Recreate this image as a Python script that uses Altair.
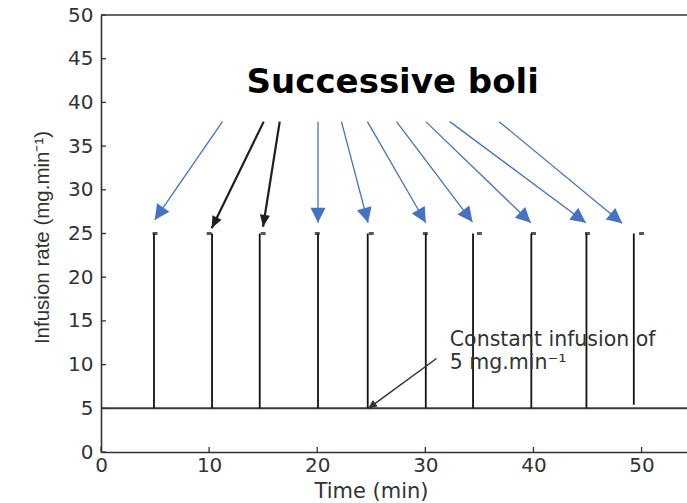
import math
import altair as alt
import pandas as pd

# ---------------- data ----------------
bolus_times = [4.9, 10.27, 14.68, 20.07, 24.67, 30.04, 34.41, 39.8, 44.9, 49.28]
bolus_low = [5, 5, 5, 5, 5, 5, 5, 5, 5, 5.4]
bolus_high = [25, 25, 25, 25, 25, 25, 25, 25, 25, 25]
marker_times = [5, 10, 15, 20, 25, 30, 35, 40, 45, 50]
marker_rate = [25] * 10
constant_rate = [5]

x_ticks = [0, 10, 20, 30, 40, 50]
y_ticks = [0, 5, 10, 15, 20, 25, 30, 35, 40, 45, 50]

# annotation arrows (time, rate) start -> tip
arrow_t0 = [11.23, 15.05, 16.53, 20.07, 22.24, 24.64, 27.33, 30.04, 32.26, 36.82, 31.03]
arrow_r0 = [37.8, 37.8, 37.8, 37.8, 37.8, 37.8, 37.8, 37.8, 37.8, 37.8, 10.7]
arrow_t1 = [4.97, 10.24, 14.99, 20.07, 24.70, 30.04, 34.36, 39.75, 44.84, 48.2, 24.70]
arrow_r1 = [26.55, 25.59, 25.77, 26.23, 26.23, 26.23, 26.31, 26.23, 26.23, 26.16, 4.97]
arrow_kind = ["blue", "black", "black", "blue", "blue", "blue", "blue", "blue", "blue", "blue", "note"]

title_text = ["Successive boli"]
title_pos = [(26.98, 42.2)]
note_lines = ["Constant infusion of", "5 mg.min\u207b\u00b9"]
note_pos = [(32.26, 12.8), (32.26, 10.16)]

# ---------------- layout ----------------
W, H = 586, 437
XMAX = 54.2
YMAX = 50
PX_X = W / XMAX
PX_Y = H / YMAX

xs = alt.Scale(domain=[0, XMAX], nice=False, zero=False)
ys = alt.Scale(domain=[0, YMAX], nice=False, zero=False)

AX_COLOR = "#333333"
BLUE = "#4472C4"

xaxis = alt.Axis(
    values=x_ticks, ticks=False, grid=False, domainColor=AX_COLOR, domainWidth=1.6,
    labelFont="DejaVu Sans", labelFontSize=20, labelColor=AX_COLOR, labelPadding=3,
    title="Time (min)", titleFont="DejaVu Sans", titleFontSize=21, titleFontWeight="normal",
    titleColor=AX_COLOR, titleX=270, titleY=45, titleBaseline="alphabetic",
    titleAlign="center", labelFlush=False)
yaxis = alt.Axis(
    values=y_ticks, ticks=False, grid=False, domainColor=AX_COLOR, domainWidth=1.6,
    labelFont="DejaVu Sans", labelFontSize=20, labelColor=AX_COLOR, labelPadding=8,
    title="Infusion rate (mg.min\u207b\u00b9)", titleFont="Liberation Sans", titleFontSize=20.5,
    titleFontWeight="normal", titleColor=AX_COLOR, titleAngle=270, titleX=-59, titleY=222,
    titleBaseline="middle", titleAlign="center", labelFlush=False)


def X(f):
    return alt.X(f, scale=xs, axis=xaxis)


def Y(f):
    return alt.Y(f, scale=ys, axis=yaxis)


bolus_df = pd.DataFrame({"t": bolus_times, "lo": bolus_low, "hi": bolus_high})
marker_df = pd.DataFrame({"t": marker_times, "r": marker_rate})
xt_df = pd.DataFrame({"t": x_ticks})
yt_df = pd.DataFrame({"r": y_ticks})
const_df = pd.DataFrame({"t": [0], "t_end": [XMAX], "r": constant_rate})

rows = []
for t0, r0, t1, r1, k in zip(arrow_t0, arrow_r0, arrow_t1, arrow_r1, arrow_kind):
    dx = (t1 - t0) * PX_X
    dy = -(r1 - r0) * PX_Y
    ang = math.degrees(math.atan2(dx, -dy)) % 360
    rows.append({"t0": t0, "r0": r0, "t1": t1, "r1": r1, "kind": k, "angle": ang})
arrows = pd.DataFrame(rows)

title_df = pd.DataFrame({"text": title_text, "t": [p[0] for p in title_pos], "r": [p[1] for p in title_pos]})
note_df = pd.DataFrame({"text": note_lines, "t": [p[0] for p in note_pos], "r": [p[1] for p in note_pos]})

base = alt.Chart(const_df).mark_rule(color="#3a3a3a", strokeWidth=2).encode(
    x=X("t:Q"), x2="t_end:Q", y=Y("r:Q")
)

top_border = alt.Chart(pd.DataFrame({"r": [YMAX]})).mark_rule(color=AX_COLOR, strokeWidth=1.6).encode(
    y=Y("r:Q"), x=alt.value(0), x2=alt.value(W)
)

xtick = alt.Chart(xt_df).mark_rule(color=AX_COLOR, strokeWidth=1.3).encode(
    x=X("t:Q"), y=alt.value(H), y2=alt.value(H - 5)
)
ytick = alt.Chart(yt_df).mark_rule(color=AX_COLOR, strokeWidth=1.3).encode(
    y=Y("r:Q"), x=alt.value(0), x2=alt.value(5)
)

boli = alt.Chart(bolus_df).mark_rule(color="#111111", strokeWidth=1.8).encode(
    x=X("t:Q"), y=Y("lo:Q"), y2="hi:Q",
)

markers = alt.Chart(marker_df).mark_tick(orient="horizontal", size=5, thickness=3, color="#111111").encode(
    x=X("t:Q"), y=Y("r:Q"),
)


def arrow_layer(kind, color, width, head_shape, head_size):
    d = arrows[arrows["kind"] == kind]
    line = alt.Chart(d).mark_rule(color=color, strokeWidth=width).encode(
        x=X("t0:Q"), y=Y("r0:Q"), x2="t1:Q", y2="r1:Q",
    )
    head = alt.Chart(d).mark_point(shape=head_shape, filled=True, color=color, opacity=1,
                                   strokeWidth=0, size=head_size).encode(
        x=X("t1:Q"), y=Y("r1:Q"), angle=alt.Angle("angle:Q", scale=None),
    )
    return line + head


blue_arrows = arrow_layer("blue", BLUE, 1.3, "M0,0L-0.5,1L0.5,1Z", 900)
black_arrows = arrow_layer("black", "#1e1e1e", 2.2, "M0,0L-0.42,1L0.42,1Z", 576)
note_arrow = arrow_layer("note", "#333333", 1.5, "M0,0L-0.45,1L0.45,1Z", 324)

title_mark = alt.Chart(title_df).mark_text(
    font="DejaVu Sans", fontWeight="bold", fontSize=34, color="#000000", align="center", baseline="middle"
).encode(x=X("t:Q"), y=Y("r:Q"), text="text:N")

note_mark = alt.Chart(note_df).mark_text(
    font="DejaVu Sans", fontSize=20.5, color="#333333", align="left", baseline="middle"
).encode(x=X("t:Q"), y=Y("r:Q"), text="text:N")

chart = alt.layer(
    base, top_border, xtick, ytick, boli, markers, blue_arrows, black_arrows, note_arrow,
    title_mark, note_mark
).properties(
    width=W, height=H,
    autosize=alt.AutoSizeParams(type="none"),
    padding={"left": 101, "top": 15, "right": 0, "bottom": 51},
    background="white",
).configure_view(strokeWidth=0)

chart.save("out.html", embed_options={"renderer": "svg", "actions": False})
